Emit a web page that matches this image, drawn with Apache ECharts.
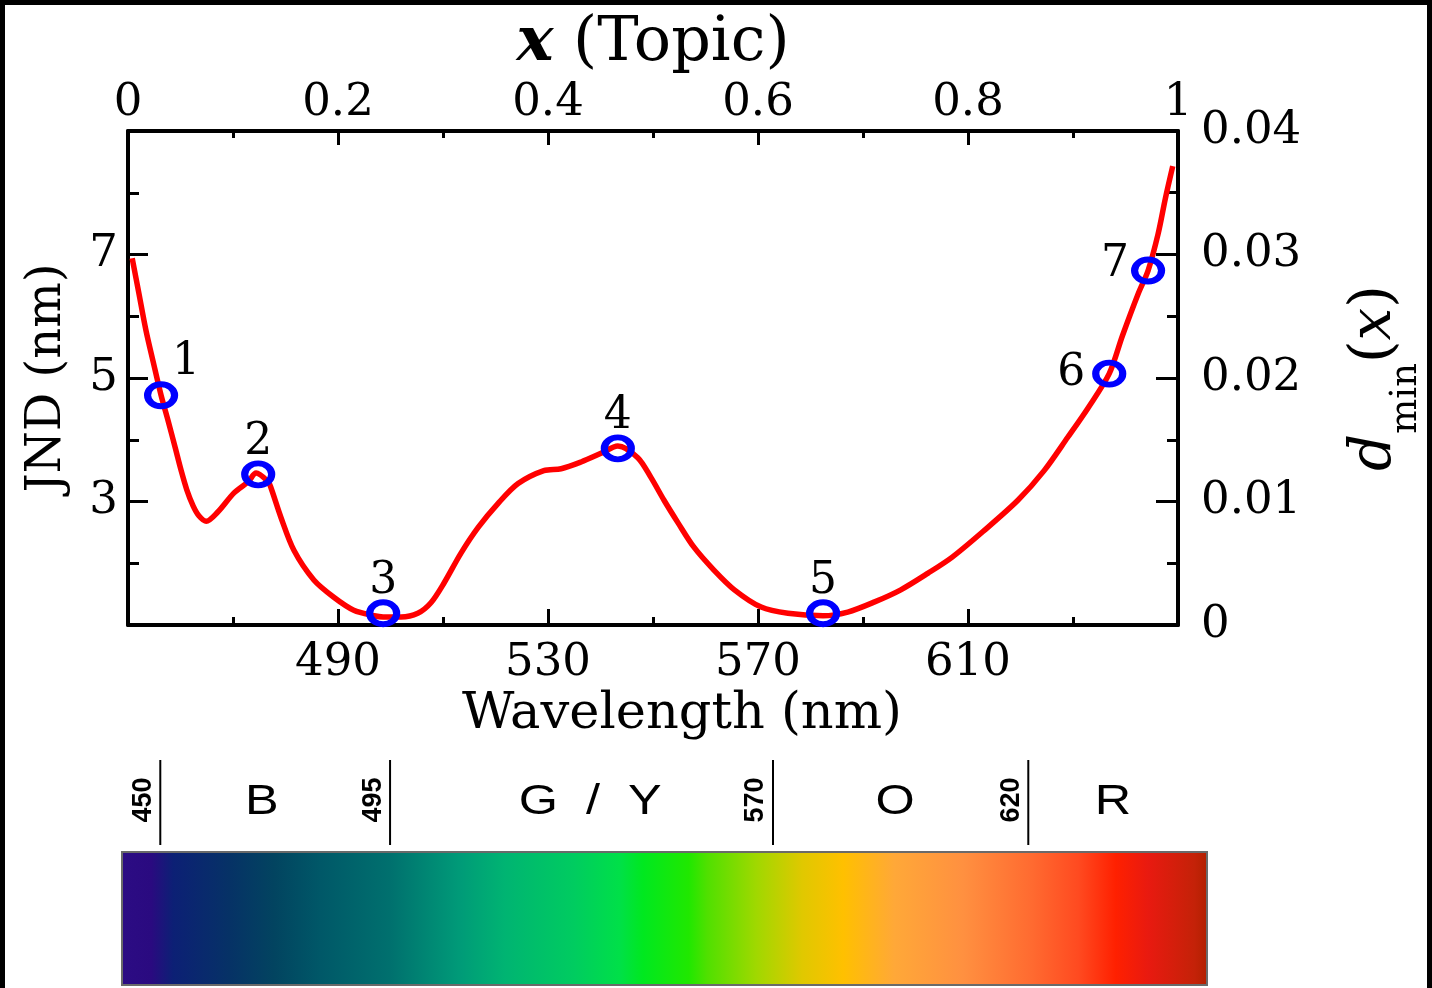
<!DOCTYPE html>
<html>
<head>
<meta charset="utf-8">
<script src="https://cdn.jsdelivr.net/npm/echarts@6/dist/echarts.min.js"></script>
<style>
  html, body { margin: 0; padding: 0; background: #000; }
  #chart { width: 1432px; height: 988px; }
</style>
</head>
<body>
<div id="chart"></div>
<script>
  // JND curve (wavelength in nm, JND in nm)
  var wavelength = [450.8, 452.1, 453.4, 454.8, 456.3, 457.6, 459.0, 460.1, 461.2, 462.4,
    463.5, 464.9, 467.1, 470.2, 472.9, 474.4, 476.7, 477.2, 479.1, 481.6,
    485.4, 489.2, 493.0, 496.9, 498.6, 502.0, 505.2, 507.7, 510.2, 513.4,
    516.7, 520.5, 524.3, 529.2, 532.5, 536.3, 540.1, 543.3, 547.1, 549.6,
    552.1, 554.8, 557.8, 561.6, 565.5, 570.6, 575.7, 582.4, 587.1, 592.1,
    597.2, 602.4, 607.0, 612.8, 619.5, 624.5, 629.0, 632.9, 636.9, 639.4,
    642.4, 644.3, 646.2, 647.6, 649.0];
  var jnd = [6.94, 6.36, 5.78, 5.26, 4.72, 4.32, 3.87, 3.51, 3.19, 2.93,
    2.77, 2.68, 2.83, 3.14, 3.32, 3.46, 3.32, 3.23, 2.75, 2.21,
    1.73, 1.45, 1.24, 1.15, 1.13, 1.13, 1.19, 1.36, 1.68, 2.16,
    2.58, 2.97, 3.29, 3.50, 3.53, 3.64, 3.78, 3.90, 3.71, 3.39,
    3.02, 2.65, 2.26, 1.89, 1.57, 1.29, 1.19, 1.15, 1.21, 1.37,
    1.57, 1.84, 2.10, 2.51, 3.02, 3.50, 4.04, 4.52, 5.07, 5.68,
    6.36, 6.74, 7.33, 7.91, 8.43];

  // marked topics
  var markerWavelength = [456.3, 474.8, 498.6, 543.3, 582.4, 636.9, 644.3];
  var markerJnd = [4.72, 3.44, 1.19, 3.86, 1.19, 5.07, 6.74];
  var markerLabels = ['1', '2', '3', '4', '5', '6', '7'];

  // tick values
  var wlMajor = [490, 530, 570, 610];
  var wlMinor = [470, 510, 550, 590, 630];
  var topicMajor = [0.2, 0.4, 0.6, 0.8];
  var topicMinor = [0.1, 0.3, 0.5, 0.7, 0.9];
  var topicLabels = [0, 0.2, 0.4, 0.6, 0.8, 1];
  var jndMajor = [3, 5, 7];
  var jndMinor = [2, 4, 6, 8];
  var dMajor = [0.01, 0.02, 0.03];
  var dMinor = [0.005, 0.015, 0.025, 0.035];
  var dLabels = [0, 0.01, 0.02, 0.03, 0.04];

  // colour bar
  var barRange = [442.5, 655];
  var bandEdges = [450, 495, 570, 620];
  var bandNames = ['B', 'G  /  Y', 'O', 'R'];
  var bandNameAt = [469.9, 534.2, 593.9, 636.6];
  var spectrumWl = [442.5, 448.4, 452.7, 463.7, 472.5, 481.5, 495.0, 508.5, 517.5, 531.0,
    540.0, 544.5, 553.5, 557.1, 566.7, 575.7, 583.7, 593.7, 607.2, 620.7,
    629.7, 637.0, 643.4, 652.4, 655];
  var spectrumColor = ['#2c0c84', '#2a0a80', '#0c2075', '#063266', '#024460', '#005868', '#00706e', '#009a78', '#00b472', '#00cc60',
    '#00e048', '#00e820', '#20e800', '#50e000', '#a0d800', '#e0c800', '#ffc000', '#ffa838', '#ff9040', '#ff6a30',
    '#ff4a20', '#ff2000', '#e81a10', '#c42208', '#b02000'];

  var SERIF = 'DejaVu Serif';
  var chart = echarts.init(document.getElementById('chart'));

  function tickAxis(pos, min, max, ticks, len, labels, margin, extra) {
    var ax = {
      type: 'value', gridIndex: 0, position: pos, min: min, max: max,
      splitLine: { show: false },
      axisLine: { show: !!labels, onZero: false, lineStyle: { color: '#000', width: 4 } },
      axisTick: { show: true, inside: true, length: len, customValues: ticks, lineStyle: { color: '#000', width: 3 } },
      axisLabel: labels ? {
        customValues: labels, color: '#000', fontFamily: SERIF, fontSize: 45, margin: margin
      } : { show: false }
    };
    return Object.assign(ax, extra || {});
  }

  var option = {
    backgroundColor: '#000',
    animation: false,
    graphic: [{
      type: 'rect', z: -10, silent: true,
      shape: { x: 5, y: 5, width: 1422, height: 983 },
      style: { fill: '#fff' }
    }],
    grid: [
      { left: 128, right: 254, top: 131, bottom: 363, outerBoundsMode: 'none' },
      { left: 122, width: 1085, top: 852, height: 133, outerBoundsMode: 'none' }
    ],
    xAxis: [
      tickAxis('bottom', 450, 650, wlMajor, 16, wlMajor, 16, {
        name: 'Wavelength (nm)', nameLocation: 'middle', nameGap: 64,
        nameTextStyle: { color: '#000', fontFamily: SERIF, fontSize: 51, padding: [0, 0, 0, 58] }
      }),
      tickAxis('bottom', 450, 650, wlMinor, 8, null),
      tickAxis('top', 0, 1, topicMajor, 14, topicLabels, 5, {
        name: '{bi|x} (Topic)', nameLocation: 'middle', nameGap: 56,
        nameTextStyle: {
          color: '#000', fontFamily: SERIF, fontSize: 62,
          rich: { bi: { fontFamily: SERIF, fontSize: 62, fontStyle: 'italic', fontWeight: 'bold', color: '#000' } }
        }
      }),
      tickAxis('top', 0, 1, topicMinor, 7, null),
      { type: 'value', gridIndex: 1, min: barRange[0], max: barRange[1], show: false }
    ],
    yAxis: [
      tickAxis('left', 1, 9, jndMajor, 20, jndMajor, 10, {
        name: 'JND (nm)', nameLocation: 'middle', nameGap: 56,
        nameTextStyle: { color: '#000', fontFamily: SERIF, fontSize: 48 }
      }),
      tickAxis('left', 1, 9, jndMinor, 11, null),
      tickAxis('right', 0, 0.04, dMajor, 22, dLabels, 23, {
        name: '{i|d}{sub|min}{n|(}{i|x}{n|)}', nameLocation: 'middle', nameGap: 146,
        nameTextStyle: {
          color: '#000', fontFamily: SERIF, fontSize: 56,
          rich: {
            i: { fontFamily: SERIF, fontSize: 58, fontStyle: 'italic', color: '#000' },
            sub: { fontFamily: SERIF, fontSize: 37, color: '#000', padding: [64, 0, 0, 0] },
            n: { fontFamily: SERIF, fontSize: 58, color: '#000' }
          }
        }
      }),
      tickAxis('right', 0, 0.04, dMinor, 11, null),
      { type: 'value', gridIndex: 1, min: 0, max: 1, show: false }
    ],
    series: [
      {
        type: 'line', xAxisIndex: 0, yAxisIndex: 0,
        data: wavelength.map(function (w, i) { return [w, jnd[i]]; }),
        showSymbol: false, smooth: 0.3,
        lineStyle: { color: '#ff0000', width: 5.5 },
        z: 3
      },
      {
        type: 'scatter', xAxisIndex: 0, yAxisIndex: 0,
        data: markerWavelength.map(function (w, i) {
          var item = { value: [w, markerJnd[i]], name: markerLabels[i] };
          if (i === 0) item.label = { position: 'top', distance: -3, offset: [25, 0] };
          if (i === 5) item.label = { position: 'left', distance: 7 };
          if (i === 6) item.label = { position: 'left', distance: 2, offset: [0, -6] };
          return item;
        }),
        symbol: 'circle', symbolSize: [27, 22],
        itemStyle: { color: 'rgba(0,0,0,0)', borderColor: '#0000ff', borderWidth: 6.5, opacity: 1 },
        label: {
          show: true, position: 'top', distance: -4,
          formatter: '{b}', color: '#000', fontFamily: SERIF, fontSize: 44
        },
        z: 4
      },
      {
        // spectrum colour bar
        type: 'custom', xAxisIndex: 4, yAxisIndex: 4, silent: true,
        data: [[barRange[0], barRange[1]]],
        renderItem: function (params, api) {
          var p0 = api.coord([api.value(0), 1]);
          var p1 = api.coord([api.value(1), 0]);
          var span = barRange[1] - barRange[0];
          var stops = spectrumWl.map(function (w, i) {
            return { offset: (w - barRange[0]) / span, color: spectrumColor[i] };
          });
          return {
            type: 'rect',
            shape: { x: p0[0], y: p0[1], width: p1[0] - p0[0], height: p1[1] - p0[1] },
            style: { fill: new echarts.graphic.LinearGradient(0, 0, 1, 0, stops), stroke: '#6a6a6a', lineWidth: 2 }
          };
        }
      },
      {
        // band edges
        type: 'custom', xAxisIndex: 4, yAxisIndex: 4, silent: true,
        data: bandEdges.map(function (v) { return [v]; }),
        renderItem: function (params, api) {
          var p = api.coord([api.value(0), 1]);
          return {
            type: 'group',
            children: [
              { type: 'line', shape: { x1: p[0], y1: p[1] - 92, x2: p[0], y2: p[1] - 7 }, style: { stroke: '#000', lineWidth: 2 } },
              {
                type: 'text', x: p[0] - 17, y: p[1] - 52, rotation: Math.PI / 2,
                style: { text: String(api.value(0)), font: 'bold 27px "Liberation Sans"', fill: '#000', align: 'center', verticalAlign: 'middle' }
              }
            ]
          };
        }
      },
      {
        // band names
        type: 'custom', xAxisIndex: 4, yAxisIndex: 4, silent: true,
        data: bandNameAt.map(function (v, i) { return [v, i]; }),
        renderItem: function (params, api) {
          var p = api.coord([api.value(0), 1]);
          return {
            type: 'text', x: p[0], y: p[1] - 50, scaleX: 1.2,
            style: { text: bandNames[api.value(1)], font: '42px "Liberation Sans"', fill: '#000', align: 'center', verticalAlign: 'middle' }
          };
        }
      }
    ]
  };
  chart.setOption(option);
</script>
</body>
</html>
